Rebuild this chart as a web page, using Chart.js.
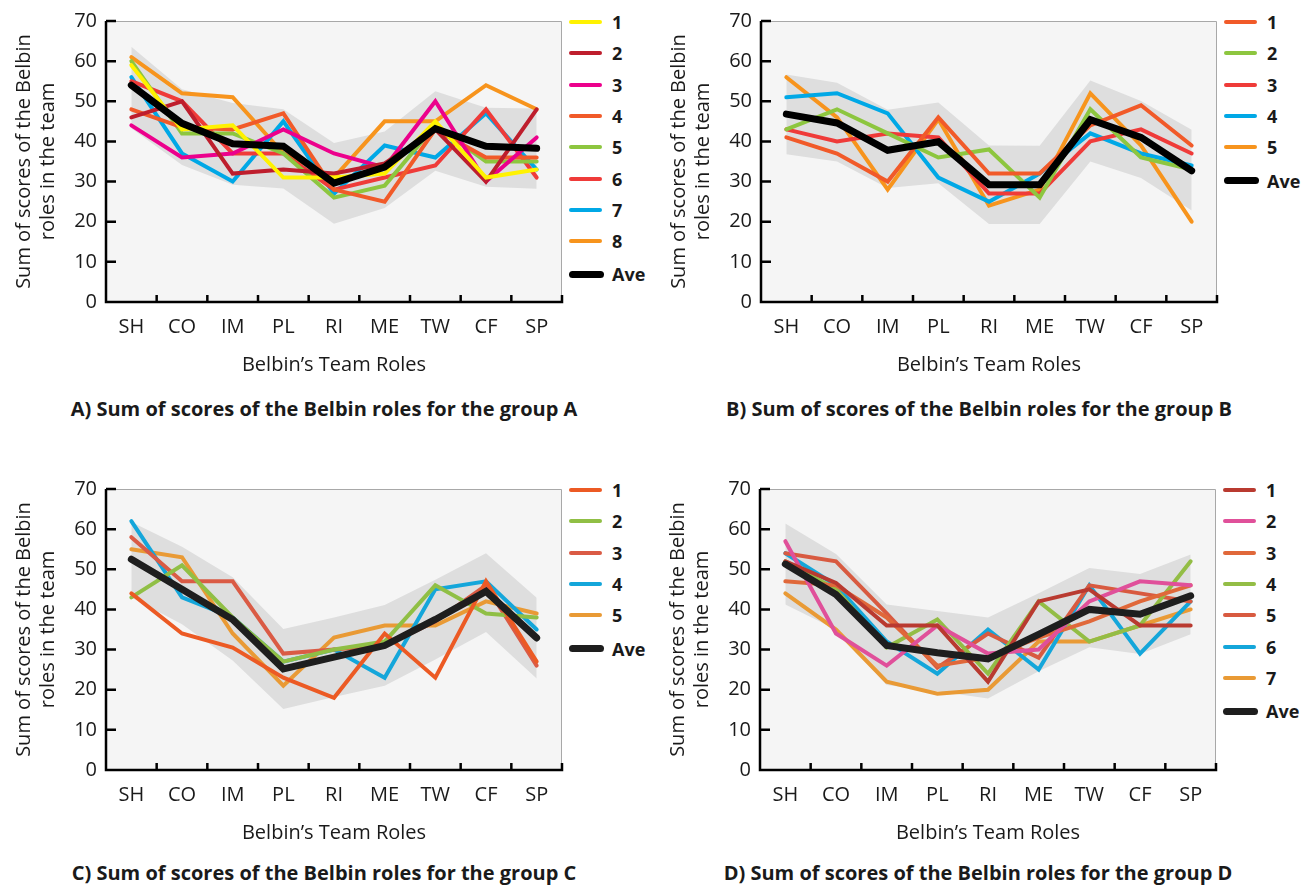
<!DOCTYPE html>
<html>
<head>
<meta charset="utf-8">
<title>Belbin team roles</title>
<script src="https://cdn.jsdelivr.net/npm/chart.js@4.4.1/dist/chart.umd.min.js"></script>
<style>
	html, body { margin: 0; padding: 0; background: #fff; }
	body { width: 1311px; height: 888px; position: relative; overflow: hidden; font-family: 'Open Sans', Lato, sans-serif; color: #1a1a1a; }
	.panel { position: absolute; width: 654px; height: 468px; }
	.panel canvas { position: absolute; left: 0; top: 0; }
	.legend { position: absolute; left: 569px; top: 0; width: 85px; }
	.legend .item { position: absolute; left: 0; height: 20px; display: flex; align-items: center; }
	.legend .swatch { width: 33px; height: 4px; border-radius: 2px; margin-right: 10px; }
	.legend .swatch.ave { height: 7px; border-radius: 4px; width: 35px; margin-right: 8px; }
	.legend .label { font-weight: 700; font-size: 18px; }
	.caption { position: absolute; left: 0; top: 395px; width: 648px; text-align: center; font-weight: 700; font-size: 20px; }
	.lower .caption { top: 391px; }
</style>
</head>
<body>
<div class="panel" style="left:0;top:0">
	<canvas id="chartA" width="565" height="390"></canvas>
	<div class="legend" id="legendA"></div>
	<div class="caption">A) Sum of scores of the Belbin roles for the group A</div>
</div>
<div class="panel" style="left:655px;top:0">
	<canvas id="chartB" width="565" height="390"></canvas>
	<div class="legend" id="legendB"></div>
	<div class="caption">B) Sum of scores of the Belbin roles for the group B</div>
</div>
<div class="panel lower" style="left:0;top:468px">
	<canvas id="chartC" width="565" height="390"></canvas>
	<div class="legend" id="legendC"></div>
	<div class="caption">C) Sum of scores of the Belbin roles for the group C</div>
</div>
<div class="panel lower" style="left:654px;top:468px">
	<canvas id="chartD" width="565" height="390"></canvas>
	<div class="legend" id="legendD"></div>
	<div class="caption">D) Sum of scores of the Belbin roles for the group D</div>
</div>
<script>
// Belbin team roles, shared by all four groups
const roles = ['SH', 'CO', 'IM', 'PL', 'RI', 'ME', 'TW', 'CF', 'SP'];
const yTickValues = [0, 10, 20, 30, 40, 50, 60, 70];

// Group A: eight members, average and shaded range
const groupA1 = [59, 43, 44, 31, 31, 32, 45, 31, 33];
const groupA2 = [46, 50, 32, 33, 32, 34.5, 43, 30, 48];
const groupA3 = [44, 36, 37, 43, 37, 33.5, 50, 30, 41];
const groupA4 = [48, 43.5, 43, 47, 28, 25, 43, 36, 36];
const groupA5 = [60, 42, 42, 37, 26, 29, 44, 35, 35];
const groupA6 = [55, 50, 37, 37, 28, 31, 34, 48, 31];
const groupA7 = [56, 37, 30, 45, 27, 39, 36, 47, 33];
const groupA8 = [61, 52, 51, 37, 31, 45, 45, 54, 48];
const groupAAve = [54, 44.5, 39.4, 38.8, 29.6, 33.6, 43.2, 38.8, 38.3];
const groupAUpper = [63.6, 53, 49.6, 48, 39.6, 42.5, 52.5, 48.4, 48.2];
const groupALower = [43.3, 34.1, 29.2, 28.3, 19.5, 23.4, 32.7, 28.7, 28.2];

// Group B
const groupB1 = [41, 37, 30, 46, 32, 32, 44, 49, 39];
const groupB2 = [43, 48, 42, 36, 38, 26, 48, 36, 33];
const groupB3 = [43, 40, 42, 41, 27, 27, 40, 43, 37];
const groupB4 = [51, 52, 47, 31, 25, 32, 42, 37, 34];
const groupB5 = [56, 46, 28, 45.5, 24, 28, 52, 39, 20];
const groupBAve = [46.8, 44.6, 37.8, 39.9, 29.2, 29.2, 45.4, 41, 32.7];
const groupBUpper = [56.7, 54.6, 47.9, 49.7, 39, 38.9, 55.2, 50.1, 42.9];
const groupBLower = [36.8, 35, 28.4, 29.6, 19.4, 19.4, 35, 30.9, 22.8];

// Group C
const groupC1 = [44, 34, 30.5, 23, 18, 34, 23, 47, 27];
const groupC2 = [43, 51, 38, 27, 30, 32, 46, 39, 38];
const groupC3 = [58, 47, 47, 29, 30, 31, 37, 46, 26];
const groupC4 = [62, 43, 38, 27, 30, 23, 45, 47, 35];
const groupC5 = [55, 53, 34, 21, 33, 36, 36, 42, 39];
const groupCAve = [52.5, 45, 37.5, 25.2, 28.1, 31, 37.5, 44.5, 32.9];
const groupCUpper = [61.8, 55.6, 48, 35.1, 38, 41.1, 47.4, 54, 42.9];
const groupCLower = [43, 36.3, 27.3, 15.2, 18.2, 21, 27.5, 34.4, 22.8];

// Group D
const groupD1 = [52, 46.6, 36, 36, 22, 42, 45, 36, 36];
const groupD2 = [57, 34, 26, 36, 29, 30, 42, 47, 46];
const groupD3 = [47, 46, 38, 26, 28, 33, 37, 42, 46];
const groupD4 = [52, 45, 30.5, 37.5, 24, 42, 32, 36, 52];
const groupD5 = [54, 52, 39, 25.5, 34, 28, 46, 44, 42];
const groupD6 = [54, 46, 32, 24, 35, 25, 46, 29, 42];
const groupD7 = [44, 35, 22, 19, 20, 32, 32, 36, 40];
const groupDAve = [51.3, 43.7, 31, 29.2, 27.7, 33.8, 40, 38.8, 43.4];
const groupDUpper = [61.4, 53.8, 41.2, 39.6, 38, 44, 50.3, 48.8, 53.7];
const groupDLower = [41.2, 35, 21.2, 19.6, 17.8, 24.6, 30.6, 28.9, 33.8];

const yellow = '#fff200';
const darkRed = '#be1e2d';
const magenta = '#ec008c';
const orangeRed = '#f15a29';
const green = '#8dc63f';
const red = '#ef3b39';
const blue = '#00a8e6';
const orange = '#f7941d';

const tickFont = { family: "'Open Sans', Lato, sans-serif", size: 20 };

// plot background, axes and inward tick marks
const framePlugin = {
	id: 'frame',
	beforeDraw(chart) {
		const { ctx, chartArea: a } = chart;
		ctx.save();
		ctx.fillStyle = '#f5f5f5';
		ctx.fillRect(a.left, a.top, a.right - a.left, a.bottom - a.top);
		ctx.restore();
	},
	afterDraw(chart) {
		const { ctx, chartArea: a, scales } = chart;
		const x = scales.x, y = scales.y;
		ctx.save();
		ctx.strokeStyle = '#a8a8a8';
		ctx.lineWidth = 1;
		ctx.beginPath();
		ctx.moveTo(a.left, a.top + 0.5);
		ctx.lineTo(a.right - 0.5, a.top + 0.5);
		ctx.lineTo(a.right - 0.5, a.bottom);
		ctx.stroke();

		ctx.strokeStyle = '#000';
		ctx.lineWidth = 2.5;
		ctx.beginPath();
		ctx.moveTo(a.left, a.top);
		ctx.lineTo(a.left, a.bottom);
		ctx.lineTo(a.right, a.bottom);
		ctx.lineTo(a.right, a.bottom - 7);
		y.ticks.forEach(t => {
			const py = y.getPixelForValue(t.value);
			ctx.moveTo(a.left, py);
			ctx.lineTo(a.left + 10, py);
		});
		for (let i = 0; i < x.ticks.length - 1; i++) {
			const px = (x.getPixelForValue(i) + x.getPixelForValue(i + 1)) / 2;
			ctx.moveTo(px, a.bottom);
			ctx.lineTo(px, a.bottom - 7);
		}
		ctx.stroke();
		ctx.restore();
	}
};

function buildLegend(legendId, series, aveColor) {
	const box = document.getElementById(legendId);
	const rows = series.map(s => ({ label: s.label, color: s.color, ave: false }));
	rows.push({ label: 'Ave', color: aveColor, ave: true });
	box.innerHTML = rows.map((r, i) => {
		const top = 12 + i * 31.3 + (r.ave ? 2 : 0);
		return `<div class="item" style="top:${top}px"><span class="swatch${r.ave ? ' ave' : ''}" style="background:${r.color}"></span><span class="label">${r.label}</span></div>`;
	}).join('');
}

function createPanel(canvasId, legendId, series, ave, upper, lower, aveColor) {
	const ctx = document.getElementById(canvasId).getContext('2d');

	const datasets = [{
		label: 'Ave',
		data: ave,
		borderColor: aveColor,
		borderWidth: 7,
		order: 0
	}];
	series.forEach((s, i) => {
		datasets.push({
			label: s.label,
			data: s.data,
			borderColor: s.color,
			borderWidth: 4,
			order: i + 1
		});
	});
	datasets.push({
		label: 'upper',
		data: upper,
		borderWidth: 0,
		borderColor: 'rgba(0,0,0,0)',
		backgroundColor: '#dedede',
		fill: '+1',
		order: 98
	});
	datasets.push({
		label: 'lower',
		data: lower,
		borderWidth: 0,
		borderColor: 'rgba(0,0,0,0)',
		fill: false,
		order: 99
	});

	new Chart(ctx, {
		type: 'line',
		data: { labels: roles, datasets },
		options: {
			responsive: false,
			animation: false,
			layout: { padding: { left: 0, right: 3, top: 17, bottom: 0 } },
			elements: {
				line: { tension: 0, borderJoinStyle: 'miter', borderCapStyle: 'round', fill: false },
				point: { radius: 0, hoverRadius: 0 }
			},
			plugins: {
				legend: { display: false },
				tooltip: { enabled: false }
			},
			scales: {
				x: {
					type: 'category',
					offset: true,
					grid: { display: false, drawTicks: false },
					border: { display: false },
					ticks: { color: '#1a1a1a', font: tickFont, padding: 13, maxRotation: 0, autoSkip: false },
					title: {
						display: true,
						text: 'Belbin\u2019s Team Roles',
						color: '#1a1a1a',
						font: tickFont,
						padding: { top: 0, bottom: 13 }
					},
					afterFit: scale => { scale.height = 88; }
				},
				y: {
					min: 0,
					max: 70,
					afterBuildTicks: scale => { scale.ticks = yTickValues.map(v => ({ value: v })); },
					grid: { display: false, drawTicks: false },
					border: { display: false },
					ticks: { color: '#1a1a1a', font: tickFont, padding: 9 },
					title: {
						display: true,
						text: ['Sum of scores of the Belbin', 'roles in the team'],
						color: '#1a1a1a',
						font: { family: tickFont.family, size: 20, lineHeight: 1.2 },
						padding: { top: 12, bottom: 0 }
					},
					afterFit: scale => { scale.width = 106; }
				}
			}
		},
		plugins: [framePlugin]
	});

	buildLegend(legendId, series, aveColor);
}

createPanel('chartA', 'legendA', [
	{ label: '1', data: groupA1, color: yellow },
	{ label: '2', data: groupA2, color: darkRed },
	{ label: '3', data: groupA3, color: magenta },
	{ label: '4', data: groupA4, color: orangeRed },
	{ label: '5', data: groupA5, color: green },
	{ label: '6', data: groupA6, color: red },
	{ label: '7', data: groupA7, color: blue },
	{ label: '8', data: groupA8, color: orange }
], groupAAve, groupAUpper, groupALower, '#000');

createPanel('chartB', 'legendB', [
	{ label: '1', data: groupB1, color: orangeRed },
	{ label: '2', data: groupB2, color: green },
	{ label: '3', data: groupB3, color: red },
	{ label: '4', data: groupB4, color: blue },
	{ label: '5', data: groupB5, color: orange }
], groupBAve, groupBUpper, groupBLower, '#000');

createPanel('chartC', 'legendC', [
	{ label: '1', data: groupC1, color: '#ec5a24' },
	{ label: '2', data: groupC2, color: '#90bf45' },
	{ label: '3', data: groupC3, color: '#da5b45' },
	{ label: '4', data: groupC4, color: '#14a6da' },
	{ label: '5', data: groupC5, color: '#e99a35' }
], groupCAve, groupCUpper, groupCLower, '#1e1e1e');

createPanel('chartD', 'legendD', [
	{ label: '1', data: groupD1, color: '#b93a30' },
	{ label: '2', data: groupD2, color: '#e0509a' },
	{ label: '3', data: groupD3, color: '#e0683a' },
	{ label: '4', data: groupD4, color: '#93bd45' },
	{ label: '5', data: groupD5, color: '#d85a40' },
	{ label: '6', data: groupD6, color: '#14a6da' },
	{ label: '7', data: groupD7, color: '#e99a35' }
], groupDAve, groupDUpper, groupDLower, '#1e1e1e');
</script>
</body>
</html>
